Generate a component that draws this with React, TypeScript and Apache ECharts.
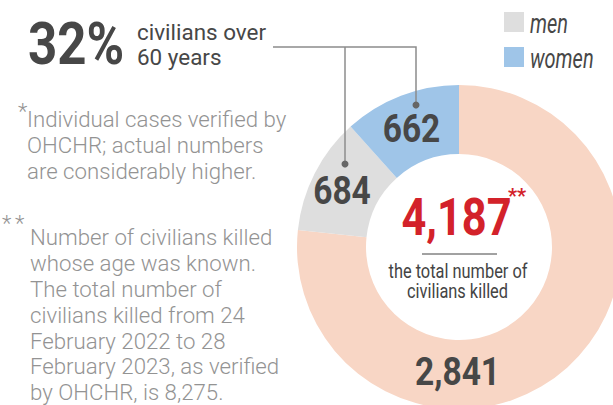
import React, { useEffect, useRef } from 'react';
import * as echarts from 'echarts';

const CATEGORIES = ['other civilians', 'men', 'women'];
const VALUES = [2841, 684, 662];
// Slice angles as drawn in the original graphic (it is not drawn to scale)
const SLICE_DEGREES = [276, 42, 42];
const COLORS = ['#f8d6c5', '#dedede', '#9fc5e8'];
const TOTAL = 4187;
const SHARE_OVER_60 = 32;
const LEGEND_ITEMS = ['men', 'women'];
const LEGEND_COLORS = ['#dedede', '#9fc5e8'];
const HEADLINE = ['civilians over', '60 years'];
const NOTE_1 = ['Individual cases verified by', 'OHCHR; actual numbers', 'are considerably higher.'];
const NOTE_2 = [
  'Number of civilians killed',
  'whose age was known.',
  'The total number of',
  'civilians killed from 24',
  'February 2022 to 28',
  'February 2023, as verified',
  'by OHCHR, is 8,275.',
];
const CENTER_LINES = ['the total number of', 'civilians killed'];

const FONT = 'Roboto, "Noto Sans", sans-serif';
const DARK = '#474747';
const NOTE_GREY = '#939393';
const RED = '#d3222a';

const fmt = (n: number) => n.toLocaleString('en-US');

function txt(
  x: number,
  y: number,
  text: string,
  size: number,
  o: { sx?: number; w?: any; italic?: boolean; color?: string; align?: string } = {}
) {
  const align = o.align ?? 'left';
  return {
    type: 'text',
    x,
    y,
    scaleX: o.sx ?? 1,
    z: 20,
    style: {
      text,
      fontFamily: FONT,
      fontSize: size,
      fontWeight: o.w ?? 'normal',
      fontStyle: o.italic ? 'italic' : 'normal',
      fill: o.color ?? DARK,
      align,
      verticalAlign: 'middle',
      textAlign: align,
      textVerticalAlign: 'middle',
    },
  };
}

export default function App() {
  const ref = useRef<HTMLDivElement>(null);
  useEffect(() => {
    if (!ref.current) return;
    const chart = echarts.init(ref.current, undefined, { renderer: 'svg' });
    const cx = 459;
    const cy = 247;

    const graphics: any[] = [];
    // headline
    graphics.push(txt(28, 44, `${SHARE_OVER_60}%`, 60, { w: 'bold', sx: 0.85 }));
    graphics.push(txt(137, 32, HEADLINE[0], 22, { sx: 1.02 }));
    graphics.push(txt(137, 57, HEADLINE[1], 22, { sx: 1.02 }));
    // leader lines
    graphics.push({
      type: 'polyline',
      z: 15,
      shape: { points: [[273, 47], [416, 47], [416, 105]] },
      style: { stroke: '#8c8c8c', lineWidth: 1.5, fill: 'none' },
    });
    graphics.push({
      type: 'line',
      z: 15,
      shape: { x1: 345, y1: 47, x2: 345, y2: 164 },
      style: { stroke: '#8c8c8c', lineWidth: 1.5 },
    });
    graphics.push({ type: 'circle', z: 16, shape: { cx: 416, cy: 105, r: 3.5 }, style: { fill: '#666' } });
    graphics.push({ type: 'circle', z: 16, shape: { cx: 345, cy: 164, r: 3.5 }, style: { fill: '#666' } });

    // note 1
    graphics.push(txt(18, 111, '*', 22, { color: NOTE_GREY, w: 300 }));
    NOTE_1.forEach((l, i) => graphics.push(txt(27, 119 + i * 26, l, 22, { color: NOTE_GREY, w: 300, sx: 1.01 })));
    // note 2
    graphics.push(txt(2, 223, '*', 22, { color: NOTE_GREY, w: 300 }));
    graphics.push(txt(15, 223, '*', 22, { color: NOTE_GREY, w: 300 }));
    NOTE_2.forEach((l, i) => graphics.push(txt(30, 237 + i * 25.9, l, 22, { color: NOTE_GREY, w: 300, sx: 1.01 })));

    // legend
    LEGEND_ITEMS.forEach((name, i) => {
      graphics.push({
        type: 'rect',
        z: 15,
        shape: { x: 504, y: 12 + i * 35, width: 20, height: 20 },
        style: { fill: LEGEND_COLORS[i] },
      });
      graphics.push(txt(530, 23.5 + i * 35, name, 27, { italic: true, sx: 0.74 }));
    });

    // center
    graphics.push(txt(cx - 2.5, 218, fmt(TOTAL), 51, { w: 'bold', color: RED, sx: 0.85, align: 'center' }));
    graphics.push(txt(508, 196, '**', 20, { w: 'bold', color: RED }));
    graphics.push({
      type: 'line',
      z: 15,
      shape: { x1: 422, y1: 254, x2: 497, y2: 254 },
      style: { stroke: '#444', lineWidth: 1 },
    });
    graphics.push(txt(458, 271, CENTER_LINES[0], 20, { sx: 0.82, align: 'center', color: '#444' }));
    graphics.push(txt(457.5, 291, CENTER_LINES[1], 20, { sx: 0.82, align: 'center', color: '#444' }));

    // slice value labels
    const labelPos = [
      [457.5, 372],
      [342, 191],
      [411.5, 129],
    ];
    VALUES.forEach((v, i) =>
      graphics.push(txt(labelPos[i][0], labelPos[i][1], fmt(v), 39, { w: 'bold', sx: 0.86, align: 'center' }))
    );

    chart.setOption({
      animation: false,
      backgroundColor: '#ffffff',
      series: [
        {
          type: 'pie',
          center: [cx, cy],
          radius: [93, 162],
          startAngle: 90,
          clockwise: true,
          silent: true,
          label: { show: false },
          labelLine: { show: false },
          itemStyle: { borderWidth: 0 },
          data: SLICE_DEGREES.map((d, i) => ({
            name: CATEGORIES[i],
            value: d,
            itemStyle: { color: COLORS[i] },
          })),
        },
      ],
      graphic: { elements: graphics },
    });
    return () => chart.dispose();
  }, []);
  return <div ref={ref} style={{ position: 'absolute', left: 0, top: 0, width: 613, height: 405 }} />;
}
